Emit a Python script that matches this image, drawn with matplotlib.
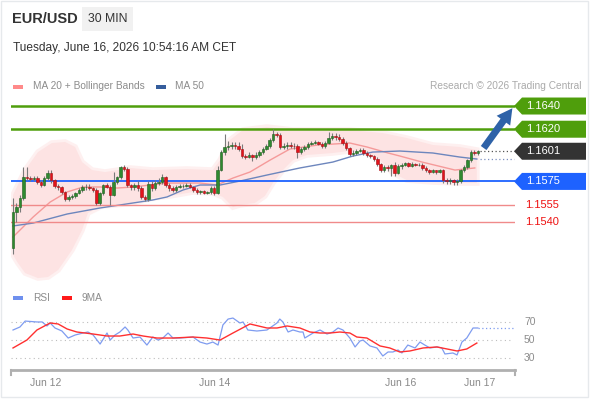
import numpy as np
import matplotlib.pyplot as plt
from matplotlib import transforms
from matplotlib.patches import Polygon, Rectangle

plt.rcParams['font.family'] = ['Liberation Sans', 'DejaVu Sans']

# --- 30 min candles (open of each candle = previous close) ---
first_open = 1.15176
closes = [
    1.15486, 1.15529, 1.15607, 1.15788, 1.15779, 1.15771, 1.15779, 1.15745, 1.15719, 1.15779,
    1.15822, 1.15762, 1.15710, 1.15702, 1.15659, 1.15598, 1.15616, 1.15624, 1.15650, 1.15676,
    1.15702, 1.15705, 1.15693, 1.15676, 1.15564, 1.15650, 1.15719, 1.15702, 1.15633, 1.15745,
    1.15788, 1.15874, 1.15857, 1.15719, 1.15702, 1.15719, 1.15693, 1.15616, 1.15598, 1.15728,
    1.15693, 1.15736, 1.15745, 1.15788, 1.15719, 1.15693, 1.15676, 1.15702, 1.15710, 1.15712,
    1.15719, 1.15702, 1.15676, 1.15659, 1.15667, 1.15650, 1.15659, 1.15693, 1.15650, 1.15848,
    1.16003, 1.16047, 1.16055, 1.16064, 1.16055, 1.16029, 1.15969, 1.15960, 1.15978, 1.15960,
    1.15978, 1.16003, 1.16029, 1.16055, 1.16107, 1.16159, 1.16150, 1.16047, 1.16055, 1.16064,
    1.16057, 1.16053, 1.16003, 1.16029, 1.16047, 1.16072, 1.16081, 1.16090, 1.16072, 1.16055,
    1.16081, 1.16124, 1.16141, 1.16133, 1.16116, 1.16081, 1.16038, 1.15986, 1.15995, 1.16012,
    1.16021, 1.15995, 1.15978, 1.15969, 1.15943, 1.15900, 1.15848, 1.15874, 1.15866, 1.15891,
    1.15822, 1.15883, 1.15891, 1.15909, 1.15883, 1.15900, 1.15891, 1.15893, 1.15866, 1.15848,
    1.15831, 1.15848, 1.15831, 1.15848, 1.15762, 1.15753, 1.15762, 1.15745, 1.15753, 1.15848,
    1.15874, 1.15934, 1.16003, 1.15995, 1.16010,
]
highs = [
    1.1561, 1.1556, 1.1563, 1.1587, 1.1587, 1.1580, 1.1580, 1.1580, 1.1576, 1.1580,
    1.1585, 1.1585, 1.1577, 1.1573, 1.1571, 1.1567, 1.1563, 1.1564, 1.1566, 1.1569,
    1.1572, 1.1573, 1.1573, 1.1570, 1.1569, 1.1566, 1.1573, 1.1574, 1.1572, 1.1583,
    1.1580, 1.1588, 1.1589, 1.1587, 1.1573, 1.1574, 1.1575, 1.1571, 1.1563, 1.1575,
    1.1575, 1.1576, 1.1578, 1.1581, 1.1580, 1.1574, 1.1571, 1.1572, 1.1573, 1.1573,
    1.1574, 1.1574, 1.1571, 1.1569, 1.1568, 1.1568, 1.1567, 1.1571, 1.1571, 1.1588,
    1.1602, 1.1616, 1.1610, 1.1609, 1.1609, 1.1609, 1.1607, 1.1599, 1.1600, 1.1599,
    1.1600, 1.1602, 1.1605, 1.1607, 1.1612, 1.1620, 1.1618, 1.1617, 1.1608, 1.1609,
    1.1609, 1.1608, 1.1607, 1.1605, 1.1606, 1.1609, 1.1610, 1.1611, 1.1610, 1.1609,
    1.1610, 1.1618, 1.1617, 1.1617, 1.1616, 1.1613, 1.1610, 1.1605, 1.1602, 1.1603,
    1.1604, 1.1604, 1.1601, 1.1599, 1.1598, 1.1596, 1.1591, 1.1589, 1.1589, 1.1590,
    1.1592, 1.1590, 1.1591, 1.1592, 1.1592, 1.1592, 1.1591, 1.1591, 1.1591, 1.1588,
    1.1586, 1.1586, 1.1585, 1.1586, 1.1586, 1.1578, 1.1578, 1.1577, 1.1577, 1.1586,
    1.1589, 1.1594, 1.1602, 1.1602, 1.1602,
]
lows = [
    1.1512, 1.1540, 1.1549, 1.1559, 1.1576, 1.1575, 1.1575, 1.1573, 1.1570, 1.1571,
    1.1576, 1.1574, 1.1569, 1.1568, 1.1564, 1.1558, 1.1558, 1.1560, 1.1561, 1.1564,
    1.1566, 1.1568, 1.1568, 1.1566, 1.1555, 1.1555, 1.1563, 1.1569, 1.1555, 1.1562,
    1.1573, 1.1577, 1.1584, 1.1570, 1.1568, 1.1568, 1.1567, 1.1560, 1.1558, 1.1558,
    1.1567, 1.1568, 1.1572, 1.1573, 1.1570, 1.1567, 1.1566, 1.1566, 1.1569, 1.1569,
    1.1570, 1.1569, 1.1566, 1.1564, 1.1564, 1.1564, 1.1564, 1.1564, 1.1563, 1.1564,
    1.1584, 1.1598, 1.1602, 1.1603, 1.1603, 1.1601, 1.1595, 1.1594, 1.1595, 1.1593,
    1.1594, 1.1596, 1.1599, 1.1602, 1.1604, 1.1609, 1.1613, 1.1603, 1.1603, 1.1603,
    1.1604, 1.1603, 1.1595, 1.1599, 1.1601, 1.1603, 1.1606, 1.1607, 1.1606, 1.1604,
    1.1604, 1.1607, 1.1611, 1.1611, 1.1610, 1.1606, 1.1602, 1.1597, 1.1597, 1.1598,
    1.1600, 1.1598, 1.1596, 1.1595, 1.1593, 1.1588, 1.1583, 1.1583, 1.1584, 1.1580,
    1.1580, 1.1581, 1.1586, 1.1588, 1.1587, 1.1587, 1.1588, 1.1588, 1.1585, 1.1583,
    1.1581, 1.1582, 1.1581, 1.1582, 1.1574, 1.1573, 1.1573, 1.1572, 1.1572, 1.1574,
    1.1583, 1.1586, 1.1592, 1.1598, 1.1598,
]

# --- indicators (candle index, value) ---
ma50_idx = [0, 5.8, 15.6, 25.1, 34.6, 40.3, 44.4, 49, 53.9, 59.7, 65.4, 73.2, 82.7, 92.2, 98,
            103.7, 111.5, 121, 128.8, 133.7]
ma50_val = [1.15366, 1.15391, 1.15469, 1.15521, 1.15564, 1.15590, 1.15616, 1.15676, 1.15719,
            1.15719, 1.15753, 1.15805, 1.15866, 1.15917, 1.15969, 1.16003, 1.16012, 1.15995,
            1.15960, 1.15943]
ma20_idx = [0, 5.8, 10.7, 15.6, 20.2, 25.1, 30, 34.6, 39.5, 44.4, 50.1, 53.9, 58.8, 63.4, 68.3,
            74.1, 79.8, 87.9, 97.1, 102, 108.1, 111.5, 117.9, 127.4, 133.1]
ma20_val = [1.15271, 1.15443, 1.15572, 1.15659, 1.15702, 1.15702, 1.15693, 1.15702, 1.15719,
            1.15736, 1.15736, 1.15736, 1.15719, 1.15779, 1.15831, 1.15934, 1.16029, 1.16064,
            1.16081, 1.16047, 1.15995, 1.15969, 1.15917, 1.15848, 1.15866]
bb_up_idx = [0, 3.5, 7.2, 11.2, 15, 17.9, 19.9, 22.8, 26.5, 30.3, 33.7, 40.3, 50.1, 57.6, 59.7,
             62.5, 66.3, 73.2, 80.7, 87.6, 97.1, 106.6, 113.5, 121, 128.8, 133.7]
bb_up_val = [1.15633, 1.15848, 1.16003, 1.16081, 1.16090, 1.16047, 1.15917, 1.15848, 1.15831,
             1.15848, 1.15866, 1.15848, 1.15857, 1.15848, 1.15934, 1.16107, 1.16193, 1.16219,
             1.16193, 1.16193, 1.16193, 1.16167, 1.16124, 1.16064, 1.16047, 1.16021]
bb_lo_idx = [0, 1.4, 3.5, 7.2, 10.1, 13, 17, 19.9, 21.6, 25.6, 29.4, 34.6, 40.3, 45.2, 51.9,
             57.6, 60.5, 63.4, 65.4, 69.7, 72.6, 74.9, 77.8, 80.7, 84.7, 92.2, 99.1, 104.9,
             109.5, 113.5, 121, 128.8, 133.7]
bb_lo_val = [1.15116, 1.15047, 1.14960, 1.14917, 1.14926, 1.14986, 1.15159, 1.15331, 1.15478,
             1.15538, 1.15547, 1.15564, 1.15607, 1.15624, 1.15659, 1.15650, 1.15616, 1.15529,
             1.15547, 1.15564, 1.15624, 1.15736, 1.15848, 1.15934, 1.15978, 1.15995, 1.16021,
             1.15960, 1.15822, 1.15762, 1.15745, 1.15736, 1.15736]

rsi_idx = [0, 2, 3.5, 6.9, 8.4, 9.8, 10.7, 12.1, 14.1, 15.9, 17.9, 20.2, 21.6, 23.1, 25.1, 27.1,
           28, 29.4, 30.8, 32.3, 33.1, 34.6, 36.6, 38.6, 40.3, 41.8, 43.2, 44.7, 46.1, 48.1,
           51.9, 53.9, 55.9, 57.6, 59.1, 60.5, 62, 63.4, 65.4, 66.3, 67.7, 70.3, 73.2, 76.1,
           76.9, 77.8, 79.3, 80.7, 82.7, 83.6, 84.1, 86.5, 88.5, 90.5, 92.2, 93.7, 95.1, 97.1,
           98.6, 100, 100.9, 102.9, 104.9, 106.6, 108.1, 109.5, 111, 112.1, 113.8, 115.9, 117.3,
           118.7, 120.2, 122.2, 123.6, 124.5, 126.8, 128, 129.4, 130.8, 132.6, 134]
rsi_val = [60.7, 64.0, 70.5, 69.5, 69.5, 65.1, 68.4, 62.9, 59.6, 51.9, 55.2, 57.4, 58.5, 55.2,
           45.3, 57.4, 49.7, 55.2, 58.5, 64.0, 60.7, 51.9, 53.0, 44.2, 53.0, 49.7, 51.9, 57.4,
           51.9, 51.9, 53.0, 47.5, 45.3, 47.5, 44.2, 66.2, 72.7, 73.8, 68.4, 69.5, 60.7, 59.6,
           60.7, 68.4, 72.7, 69.5, 58.5, 60.7, 58.5, 58.5, 51.9, 57.4, 60.7, 56.3, 58.5, 62.9,
           60.7, 51.9, 42.1, 48.6, 49.7, 43.2, 41.0, 32.2, 36.6, 36.6, 38.8, 35.5, 44.2, 41.0,
           47.5, 44.2, 41.0, 42.1, 41.0, 34.4, 35.5, 33.3, 47.5, 51.9, 62.9, 62.9]
ma9_idx = [0, 4, 6.9, 10.7, 13, 15.6, 18.4, 23.1, 27.1, 30.8, 34.6, 37.5, 41.5, 46.1, 51.9, 55.9,
           59.7, 63.4, 68.3, 73.2, 76.1, 79, 82.7, 85.6, 88.5, 91.4, 94.2, 97.1, 99.1, 102,
           105.8, 108.6, 111.5, 114.4, 118.2, 122.2, 125.1, 128, 130.8, 133.7]
ma9_val = [41.0, 49.7, 60.7, 68.4, 67.3, 61.8, 58.5, 56.3, 54.1, 54.1, 56.3, 54.1, 51.9, 51.9,
           53.0, 51.9, 49.7, 57.4, 67.3, 62.9, 62.9, 65.1, 62.9, 58.5, 57.4, 57.4, 58.5, 57.4,
           53.0, 51.9, 43.2, 41.0, 36.6, 37.7, 41.0, 42.1, 39.9, 37.7, 39.9, 46.4]

green_levels = [1.1640, 1.1620]
support_level = 1.1575
red_levels = [1.1555, 1.1540]
last_price = 1.1601
rsi_levels = [70, 50, 30]

tick_pos = [9.5, 58.2, 111.8, 134.6]
tick_labels = ['Jun 12', 'Jun 14', 'Jun 16', 'Jun 17']

# colours
GREEN = '#4f9e0c'
BLUE = '#1e62ff'
RED_LINE = '#f08a8a'
DARK = '#333333'
GREY = '#8c8c8c'

W, H = 590, 400


def fx(px):
    return px / W


def fy(py):
    return 1 - py / H


fig = plt.figure(figsize=(W / 100, H / 100), dpi=100)
fig.patch.set_facecolor('white')

# frame of the widget
fig.patches.append(Rectangle((fx(1), fy(397)), fx(587), 396 / H, transform=fig.transFigure,
                             fill=False, edgecolor='#e6e9ec', lw=1))

# header
fig.text(fx(12), fy(19), 'EUR/USD', fontsize=10.5, fontweight='bold', color=DARK, va='center')
fig.patches.append(Rectangle((fx(82), fy(31)), fx(51), 24 / H, transform=fig.transFigure,
                             facecolor='#f1f1f1', edgecolor='none'))
fig.text(fx(107.5), fy(19), '30 MIN', fontsize=8.8, color=DARK, va='center', ha='center')
fig.text(fx(13), fy(48), 'Tuesday, June 16, 2026 10:54:16 AM CET', fontsize=8.6, color=DARK,
         va='center')

# legend row
fig.patches.append(Rectangle((fx(13), fy(88.5)), fx(10), 4 / H, transform=fig.transFigure,
                             facecolor='#ff8a8a', edgecolor='none'))
fig.text(fx(33), fy(86), 'MA 20 + Bollinger Bands', fontsize=7.3, color=GREY, va='center')
fig.patches.append(Rectangle((fx(156), fy(88.5)), fx(10), 4 / H, transform=fig.transFigure,
                             facecolor='#355d9c', edgecolor='none'))
fig.text(fx(175), fy(86), 'MA 50', fontsize=7.3, color=GREY, va='center')
fig.text(fx(581), fy(86), 'Research \u00a9 2026 Trading Central', fontsize=7.3, color='#aaaaaa',
         va='center', ha='right')

# price panel
ax = fig.add_axes([fx(11), fy(285), fx(504), 190 / H])
n = len(closes)
x = np.arange(n)
opens = np.array([first_open] + closes[:-1])
closes_a = np.array(closes)
x0, x1 = -0.58, 144.7
y0, y1 = 1.14857, 1.16495
ax.set_xlim(x0, x1)
ax.set_ylim(y0, y1)
ax.axis('off')
px_price = (y1 - y0) / 190.0
px_idx = (x1 - x0) / 504.0

# bollinger band (soft edge: wide light outline under the fill)
band = list(zip(bb_up_idx, bb_up_val)) + list(zip(bb_lo_idx[::-1], bb_lo_val[::-1]))
ax.add_patch(Polygon(band, closed=True, facecolor='none', edgecolor='#fef0f0', lw=4, zorder=1))
ax.add_patch(Polygon(band, closed=True, facecolor='#fde3e3', edgecolor='none', zorder=1))

ax.plot(ma20_idx, ma20_val, color='#f59a9a', lw=1, zorder=2)
ax.plot(ma50_idx, ma50_val, color='#6d86bd', lw=1, zorder=2)

for lv in green_levels:
    ax.axhline(lv, color=GREEN, lw=1.8, zorder=2)
ax.axhline(support_level, color=BLUE, lw=1.3, zorder=2)
for lv in red_levels:
    ax.axhline(lv, color=RED_LINE, lw=1, zorder=2)

# candles
up = closes_a >= opens
body_col = np.where(up, '#2f8a2f', '#e3131b')
edge_col = np.where(up, '#1e5e1e', '#a30d12')
ax.vlines(x, lows, highs, color='#7a7a7a', lw=0.8, zorder=3)
ax.bar(x, closes_a - opens, bottom=opens, width=0.72, color=body_col, edgecolor=edge_col,
       lw=0.4, zorder=4)

# dotted extensions to the right
ext = [n - 0.3, x1 - 1.5 * px_idx]
ax.plot(ext, [last_price, last_price], color='#555555', lw=0.9, ls=(0, (1, 2)), zorder=3)
ax.plot(ext, [ma50_val[-1], ma50_val[-1]], color='#7d90c0', lw=0.9, ls=(0, (1, 2)), zorder=3)

# projection arrow toward target
ax.annotate('', xy=(x1 - 1 * px_idx, green_levels[0]),
            xytext=(n + 0.2, closes[-1] + 1 * px_price),
            arrowprops=dict(arrowstyle='simple,head_length=1.1,head_width=1.2,tail_width=0.5',
                            color='#2e62a8', lw=0), zorder=5, annotation_clip=False)

# right side price tags
blend = transforms.blended_transform_factory(fig.transFigure, ax.transData)
hh = 8.5 * px_price


def tag(level, color, text):
    pts = [(fx(514), level), (fx(522), level + hh), (fx(586), level + hh),
           (fx(586), level - hh), (fx(522), level - hh)]
    fig.patches.append(Polygon(pts, closed=True, transform=blend, facecolor=color,
                               edgecolor='none'))
    fig.text(fx(526), level, text, transform=blend, fontsize=8, color='white', va='center')


for lv in green_levels:
    tag(lv, GREEN, f'{lv:.4f}')
tag(last_price, '#333333', f'{last_price:.4f}')
tag(support_level, BLUE, f'{support_level:.4f}')
for lv in red_levels:
    fig.text(fx(525), lv, f'{lv:.4f}', transform=blend, fontsize=8, color='#ee1111', va='center')

# RSI panel
fig.patches.append(Rectangle((fx(13), fy(300)), fx(10), 4 / H, transform=fig.transFigure,
                             facecolor='#6f90ee', edgecolor='none'))
fig.text(fx(33), fy(298), 'RSI', fontsize=7.3, color=GREY, va='center')
fig.patches.append(Rectangle((fx(62), fy(300)), fx(10), 4 / H, transform=fig.transFigure,
                             facecolor='#ff1a1a', edgecolor='none'))
fig.text(fx(82), fy(298), '9MA', fontsize=7.3, color=GREY, va='center')

ar = fig.add_axes([fx(11), fy(370), fx(504), 65 / H])
ar.set_xlim(x0, x1)
ar.set_ylim(16.85, 88.1)
for s in ['top', 'right', 'left']:
    ar.spines[s].set_visible(False)
ar.spines['bottom'].set_color('#b0b0b0')
ar.spines['bottom'].set_linewidth(2)
ar.set_yticks([])
ar.set_xticks(tick_pos)
ar.set_xticklabels(tick_labels)
ar.tick_params(axis='x', length=0, pad=6, labelsize=7.5, labelcolor='#888888')
for xe in [0, 1]:
    ar.plot([xe, xe], [0, -0.07], transform=ar.transAxes, color='#b0b0b0', lw=1.5,
            clip_on=False)

for lv in rsi_levels:
    ar.plot([x0, x1 - 2 * px_idx], [lv, lv], color='#bdbdbd', lw=0.8, ls=(0, (1, 3)))
    fig.text(fx(524), lv, str(lv), transform=transforms.blended_transform_factory(
        fig.transFigure, ar.transData), fontsize=7.5, color=GREY, va='center')

ar.plot(rsi_idx, rsi_val, color='#7f9cf0', lw=0.9)
ar.plot([rsi_idx[-1], x1 - 2 * px_idx], [rsi_val[-1], rsi_val[-1]], color='#7f9cf0', lw=0.9,
        ls=(0, (1, 2)))
ar.plot(ma9_idx, ma9_val, color='#ff3030', lw=1)

fig.savefig('out.png', dpi=100)
